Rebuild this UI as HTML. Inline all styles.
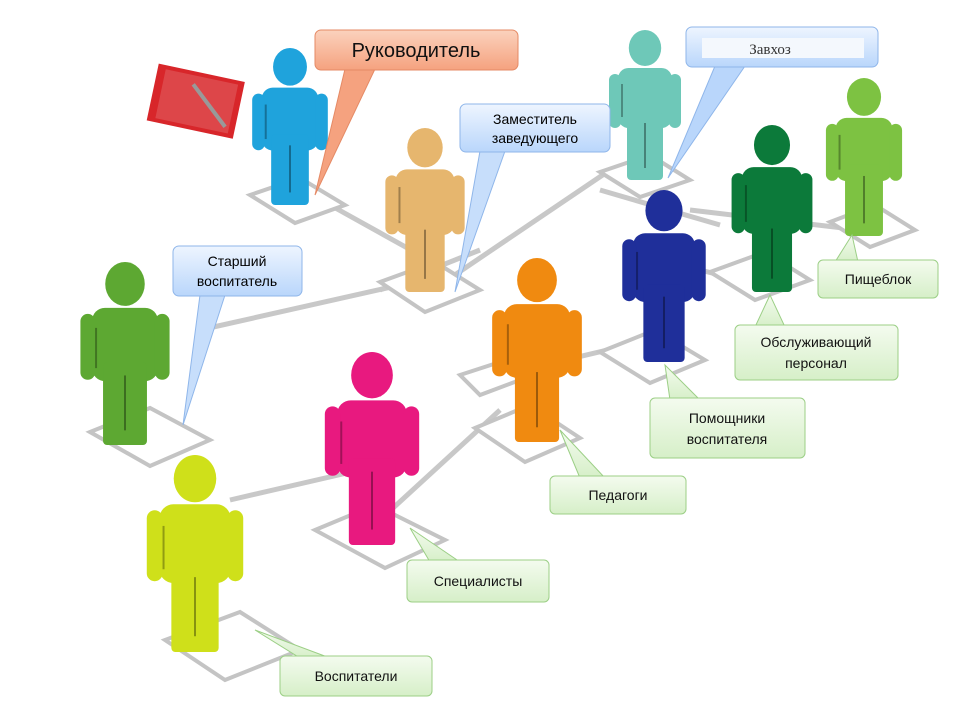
<!DOCTYPE html>
<html><head><meta charset="utf-8"><style>
body{margin:0;background:#fff;width:960px;height:720px;overflow:hidden;font-family:"Liberation Sans",sans-serif}
</style></head><body>
<svg id="s" width="960" height="720" viewBox="0 0 960 720" xmlns="http://www.w3.org/2000/svg">
<defs>
<linearGradient id="gg" x1="0" y1="0" x2="0" y2="1"><stop offset="0" stop-color="#f4fbef"/><stop offset="1" stop-color="#d6efc8"/></linearGradient>
<linearGradient id="bg" x1="0" y1="0" x2="0" y2="1"><stop offset="0" stop-color="#eef5ff"/><stop offset="1" stop-color="#b9d6fb"/></linearGradient>
<linearGradient id="og" x1="0" y1="0" x2="0" y2="1"><stop offset="0" stop-color="#fbd2bd"/><stop offset="1" stop-color="#f5a27f"/></linearGradient>
</defs>
<g stroke="#c8c8c8" stroke-width="5" fill="none">
<line x1="330" y1="205" x2="420" y2="255"/>
<line x1="440" y1="285" x2="610" y2="170"/>
<line x1="200" y1="330" x2="400" y2="285"/>
<line x1="600" y1="190" x2="720" y2="225"/>
<line x1="690" y1="210" x2="860" y2="230"/>
<line x1="480" y1="380" x2="650" y2="340"/>
<line x1="230" y1="500" x2="360" y2="470"/>
<line x1="380" y1="520" x2="500" y2="410"/>
<line x1="700" y1="270" x2="780" y2="290"/>
<line x1="380" y1="290" x2="480" y2="250"/>
</g>
<g stroke="#c4c4c4" stroke-width="4" fill="#fff">
<polygon points="250,195 300,178 345,205 295,223"/>
<polygon points="380,282 435,262 480,290 425,312"/>
<polygon points="600,172 650,155 690,180 640,197"/>
<polygon points="710,272 765,252 810,280 755,300"/>
<polygon points="830,222 875,205 915,230 870,247"/>
<polygon points="600,352 655,330 705,360 650,383"/>
<polygon points="475,428 530,405 580,438 525,462"/>
<polygon points="90,432 150,408 210,440 150,466"/>
<polygon points="315,530 375,505 445,540 385,568"/>
<polygon points="165,640 240,612 300,650 225,680"/>
<polygon points="460,375 500,362 520,380 480,395"/>
</g>
<g id="figs"></g>
<g transform="rotate(12 195 100)"><rect x="152" y="72" width="88" height="58" fill="#d8262a"/><rect x="160" y="76" width="74" height="50" fill="#fff" opacity=".15"/><line x1="190" y1="85" x2="230" y2="120" stroke="#999" stroke-width="4"/></g>
<polygon points="345,69 375,69 315,195" fill="#f5a27f" stroke="#e58a65"/>
<rect x="315" y="30" width="203" height="40" rx="6" fill="url(#og)" stroke="#e58a65"/>
<text x="416" y="57" font-size="20" text-anchor="middle" fill="#111">Руководитель</text>
<polygon points="715,66 745,66 668,178" fill="#b9d6fb" stroke="#8fb6ea"/>
<rect x="686" y="27" width="192" height="40" rx="6" fill="url(#bg)" stroke="#8fb6ea"/>
<rect x="702" y="38" width="162" height="20" fill="#f4f8fd"/>
<text x="770" y="54" font-size="15" text-anchor="middle" font-family="Liberation Serif,serif" fill="#333">Завхоз</text>
<polygon points="480,151 505,151 455,292" fill="#c7defb" stroke="#8fb6ea"/>
<rect x="460" y="104" width="150" height="48" rx="6" fill="url(#bg)" stroke="#8fb6ea"/>
<text x="535" y="124" font-size="14" text-anchor="middle">Заместитель</text>
<text x="535" y="143" font-size="14" text-anchor="middle">заведующего</text>
<polygon points="200,295 225,295 183,425" fill="#c7defb" stroke="#8fb6ea"/>
<rect x="173" y="246" width="129" height="50" rx="6" fill="url(#bg)" stroke="#8fb6ea"/>
<text x="237" y="266" font-size="14" text-anchor="middle">Старший</text>
<text x="237" y="286" font-size="14" text-anchor="middle">воспитатель</text>
<g stroke="#9ccf86" fill="url(#gg)">
<polygon points="852,235 835,262 858,262"/><rect x="818" y="260" width="120" height="38" rx="5"/>
<polygon points="770,295 755,327 785,327"/><rect x="735" y="325" width="163" height="55" rx="5"/>
<polygon points="665,365 670,400 700,400"/><rect x="650" y="398" width="155" height="60" rx="5"/>
<polygon points="560,430 580,478 605,478"/><rect x="550" y="476" width="136" height="38" rx="5"/>
<polygon points="410,528 430,562 460,562"/><rect x="407" y="560" width="142" height="42" rx="5"/>
<polygon points="255,630 300,658 330,658"/><rect x="280" y="656" width="152" height="40" rx="5"/>
</g>
<g font-size="14" text-anchor="middle" fill="#111">
<text x="878" y="284">Пищеблок</text>
<text x="816" y="347">Обслуживающий</text><text x="816" y="368">персонал</text>
<text x="727" y="423">Помощники</text><text x="727" y="444">воспитателя</text>
<text x="618" y="500">Педагоги</text>
<text x="478" y="586">Специалисты</text>
<text x="356" y="681">Воспитатели</text>
</g>
</svg>
<script>
var F=[[290,48,205,"#1fa3dc"],[425,128,292,"#e6b66e"],[645,30,180,"#6ec8b8"],[772,125,292,"#0c7a3a"],[864,78,236,"#7dc242"],[664,190,362,"#1f2f9a"],[537,258,442,"#f08a10"],[125,262,445,"#5da832"],[372,352,545,"#e8197f"],[195,455,652,"#cfe01a"]];
var g=document.getElementById("figs"),h="";
F.forEach(function(f){var x=f[0],t=f[1],b=f[2],H=b-t,c=f[3];var r=H*0.12;
var tw=H*0.36,aw=H*0.08,lw=H*0.24;
h+='<g fill="'+c+'">';
h+='<ellipse cx="'+x+'" cy="'+(t+r)+'" rx="'+r*0.9+'" ry="'+r+'"/>';
h+='<rect x="'+(x-tw/2)+'" y="'+(t+2*r+2)+'" width="'+tw+'" height="'+H*0.4+'" rx="'+H*0.07+'"/>';
h+='<rect x="'+(x-tw/2-aw+3)+'" y="'+(t+2*r+8)+'" width="'+aw+'" height="'+H*0.36+'" rx="'+aw/2+'"/>';
h+='<rect x="'+(x+tw/2-3)+'" y="'+(t+2*r+8)+'" width="'+aw+'" height="'+H*0.36+'" rx="'+aw/2+'"/>';
h+='<rect x="'+(x-lw/2)+'" y="'+(t+H*0.55)+'" width="'+lw+'" height="'+H*0.45+'" rx="4"/>';
h+='</g><line x1="'+x+'" y1="'+(t+H*0.62)+'" x2="'+x+'" y2="'+(b-H*0.08)+'" stroke="rgba(0,0,0,.35)" stroke-width="2"/>';
h+='<line x1="'+(x-tw/2+4)+'" y1="'+(t+2*r+H*0.12)+'" x2="'+(x-tw/2+4)+'" y2="'+(t+2*r+H*0.34)+'" stroke="rgba(0,0,0,.3)" stroke-width="2"/>';
});
g.innerHTML=h;
</script>
</body></html>
